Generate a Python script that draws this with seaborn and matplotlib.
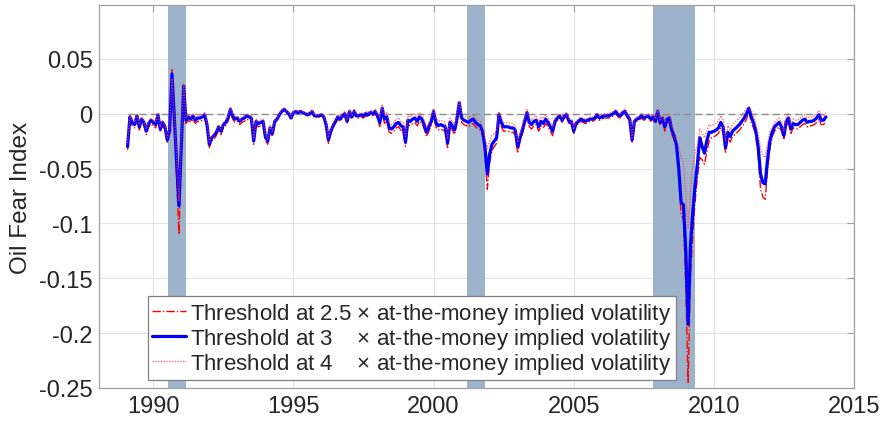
import numpy as np
import pandas as pd
import matplotlib
matplotlib.use("Agg")
import matplotlib.pyplot as plt
import seaborn as sns

# Monthly Oil Fear Index, Feb 1989 - Jan 2014, for three jump thresholds
start_year = 1989
thr3 = [
    -0.030, -0.003, -0.008, -0.010, -0.002, -0.012, -0.005, -0.008, -0.016, -0.009, -0.006, -0.008,
    -0.010, -0.001, -0.014, -0.008, -0.012, -0.024, -0.015, 0.036, -0.003, -0.045, -0.084, -0.030,
    0.025, -0.006, -0.003, -0.005, -0.002, -0.006, -0.004, -0.004, -0.003, -0.001, -0.010, -0.028,
    -0.022, -0.020, -0.017, -0.012, -0.016, -0.010, -0.008, -0.004, 0.004, -0.002, -0.005, -0.004,
    -0.007, -0.005, -0.004, -0.002, -0.003, -0.004, -0.025, -0.007, -0.009, -0.008, -0.007, -0.021,
    -0.025, -0.013, -0.018, -0.007, -0.005, -0.001, 0.002, 0.004, 0.002, 0.000, -0.004, 0.001,
    0.002, 0.001, 0.002, 0.001, 0.000, -0.001, 0.000, 0.002, -0.002, -0.002, -0.002, -0.001,
    -0.003, -0.010, -0.024, -0.016, -0.011, -0.007, -0.003, -0.005, -0.002, 0.000, -0.007, 0.002,
    -0.003, 0.002, -0.002, -0.002, -0.001, -0.002, 0.000, -0.001, 0.001, 0.000, 0.002, -0.002,
    -0.008, 0.005, -0.005, -0.003, -0.013, -0.014, -0.012, -0.009, -0.008, -0.011, -0.012, -0.026,
    -0.006, -0.007, -0.005, -0.004, -0.007, -0.003, -0.005, -0.010, -0.017, -0.012, -0.007, 0.002,
    -0.008, -0.011, -0.010, -0.011, -0.012, -0.027, -0.008, -0.011, -0.015, -0.005, 0.010, -0.004,
    -0.006, -0.007, -0.008, -0.006, -0.005, -0.008, -0.010, -0.011, -0.016, -0.030, -0.055, -0.037,
    -0.028, -0.025, -0.022, -0.001, -0.008, -0.012, -0.012, -0.012, -0.013, -0.013, -0.015, -0.030,
    -0.022, -0.015, -0.007, 0.001, -0.008, -0.010, -0.007, -0.006, -0.012, -0.007, -0.009, -0.005,
    -0.008, -0.012, -0.016, -0.007, -0.004, -0.002, -0.006, -0.002, -0.001, -0.007, -0.007, -0.016,
    -0.009, -0.007, -0.005, -0.006, -0.007, -0.006, -0.005, -0.005, -0.004, -0.001, -0.004, -0.003,
    -0.002, -0.002, -0.002, -0.001, 0.000, 0.002, -0.001, -0.002, 0.001, 0.002, -0.002, -0.005,
    -0.024, -0.007, -0.005, -0.004, -0.002, -0.004, -0.003, -0.002, -0.005, -0.003, -0.007, 0.002,
    -0.008, -0.004, -0.012, -0.005, -0.004, -0.015, -0.020, -0.028, -0.050, -0.081, -0.083, -0.125,
    -0.192, -0.120, -0.090, -0.065, -0.045, -0.022, -0.030, -0.036, -0.025, -0.017, -0.017, -0.016,
    -0.015, -0.013, -0.008, -0.012, -0.031, -0.017, -0.021, -0.016, -0.014, -0.012, -0.010, -0.007,
    -0.004, 0.000, 0.005, -0.003, -0.008, -0.016, -0.030, -0.055, -0.063, -0.064, -0.042, -0.025,
    -0.017, -0.012, -0.010, -0.008, -0.012, -0.020, -0.007, -0.004, -0.014, -0.009, -0.010, -0.010,
    -0.008, -0.006, -0.005, -0.008, -0.007, -0.007, -0.006, -0.004, -0.001, -0.006, -0.006, -0.003,
]
thr25 = [
    -0.033, -0.006, -0.011, -0.013, -0.005, -0.015, -0.008, -0.011, -0.019, -0.012, -0.009, -0.011,
    -0.013, -0.004, -0.017, -0.011, -0.015, -0.027, -0.018, 0.040, -0.005, -0.060, -0.110, -0.040,
    0.024, -0.009, -0.006, -0.008, -0.005, -0.009, -0.007, -0.007, -0.006, -0.004, -0.013, -0.031,
    -0.025, -0.023, -0.020, -0.015, -0.019, -0.013, -0.011, -0.007, 0.001, -0.005, -0.008, -0.007,
    -0.010, -0.008, -0.007, -0.005, -0.006, -0.007, -0.028, -0.010, -0.012, -0.011, -0.010, -0.024,
    -0.028, -0.016, -0.021, -0.010, -0.006, -0.002, 0.001, 0.003, 0.001, -0.001, -0.005, 0.000,
    0.001, 0.000, 0.001, 0.000, -0.001, -0.002, -0.001, 0.001, -0.003, -0.003, -0.003, -0.002,
    -0.004, -0.012, -0.027, -0.018, -0.013, -0.009, -0.005, -0.007, -0.004, -0.002, -0.009, 0.000,
    -0.005, 0.000, -0.004, -0.004, -0.003, -0.004, -0.002, -0.003, -0.001, -0.002, 0.000, -0.004,
    -0.012, 0.002, -0.009, -0.007, -0.017, -0.018, -0.016, -0.013, -0.012, -0.015, -0.016, -0.030,
    -0.010, -0.011, -0.009, -0.008, -0.011, -0.007, -0.009, -0.014, -0.021, -0.016, -0.011, -0.001,
    -0.012, -0.015, -0.014, -0.015, -0.016, -0.031, -0.012, -0.015, -0.019, -0.009, 0.008, -0.008,
    -0.010, -0.011, -0.012, -0.010, -0.009, -0.012, -0.014, -0.015, -0.020, -0.036, -0.069, -0.045,
    -0.034, -0.030, -0.027, -0.004, -0.012, -0.016, -0.016, -0.016, -0.017, -0.017, -0.019, -0.036,
    -0.026, -0.019, -0.011, -0.003, -0.012, -0.014, -0.011, -0.010, -0.016, -0.011, -0.013, -0.009,
    -0.012, -0.016, -0.020, -0.009, -0.006, -0.004, -0.008, -0.004, -0.003, -0.009, -0.009, -0.018,
    -0.011, -0.009, -0.007, -0.008, -0.009, -0.008, -0.007, -0.007, -0.006, -0.003, -0.006, -0.005,
    -0.004, -0.004, -0.004, -0.003, -0.002, 0.000, -0.003, -0.004, -0.001, 0.000, -0.004, -0.007,
    -0.026, -0.009, -0.007, -0.006, -0.004, -0.006, -0.005, -0.004, -0.007, -0.005, -0.009, 0.000,
    -0.010, -0.006, -0.016, -0.009, -0.008, -0.019, -0.024, -0.032, -0.060, -0.092, -0.096, -0.160,
    -0.245, -0.150, -0.110, -0.080, -0.058, -0.040, -0.042, -0.046, -0.035, -0.025, -0.022, -0.021,
    -0.020, -0.018, -0.013, -0.017, -0.036, -0.022, -0.026, -0.021, -0.019, -0.017, -0.015, -0.012,
    -0.009, -0.005, 0.003, -0.008, -0.013, -0.020, -0.038, -0.068, -0.076, -0.078, -0.052, -0.032,
    -0.021, -0.016, -0.014, -0.012, -0.016, -0.024, -0.011, -0.008, -0.018, -0.013, -0.014, -0.014,
    -0.012, -0.010, -0.009, -0.012, -0.011, -0.011, -0.010, -0.008, -0.005, -0.010, -0.010, -0.007,
]
thr4 = [
    -0.027, -0.001, -0.006, -0.008, 0.000, -0.010, -0.003, -0.006, -0.014, -0.007, -0.004, -0.006,
    -0.008, 0.001, -0.012, -0.006, -0.010, -0.022, -0.013, 0.032, 0.000, -0.040, -0.080, -0.025,
    0.027, -0.004, -0.001, -0.003, 0.000, -0.004, -0.002, -0.002, -0.001, 0.001, -0.008, -0.026,
    -0.020, -0.018, -0.015, -0.010, -0.014, -0.008, -0.006, -0.002, 0.006, 0.000, -0.003, -0.002,
    -0.005, -0.003, -0.002, 0.000, -0.001, -0.002, -0.023, -0.005, -0.007, -0.006, -0.005, -0.019,
    -0.023, -0.011, -0.016, -0.005, -0.004, 0.000, 0.003, 0.005, 0.003, 0.001, -0.003, 0.002,
    0.003, 0.002, 0.003, 0.002, 0.001, 0.000, 0.001, 0.003, -0.001, -0.001, -0.001, 0.000,
    -0.002, -0.008, -0.022, -0.014, -0.009, -0.005, -0.001, -0.003, 0.000, 0.002, -0.005, 0.004,
    -0.001, 0.004, 0.000, 0.000, 0.001, 0.000, 0.002, 0.001, 0.003, 0.002, 0.004, 0.000,
    -0.004, 0.008, -0.001, 0.001, -0.009, -0.010, -0.008, -0.005, -0.004, -0.007, -0.008, -0.022,
    -0.002, -0.003, -0.001, 0.000, -0.003, 0.001, -0.001, -0.006, -0.013, -0.008, -0.003, 0.005,
    -0.004, -0.007, -0.006, -0.007, -0.008, -0.023, -0.004, -0.007, -0.011, -0.001, 0.012, 0.000,
    -0.002, -0.003, -0.004, -0.002, -0.001, -0.004, -0.006, -0.007, -0.012, -0.022, -0.032, -0.025,
    -0.020, -0.018, -0.016, 0.002, -0.004, -0.008, -0.008, -0.008, -0.009, -0.009, -0.011, -0.026,
    -0.018, -0.011, -0.003, 0.004, -0.004, -0.006, -0.003, -0.002, -0.008, -0.003, -0.005, -0.001,
    -0.004, -0.008, -0.012, -0.005, -0.002, 0.000, -0.004, 0.000, 0.001, -0.005, -0.005, -0.014,
    -0.007, -0.005, -0.003, -0.004, -0.005, -0.004, -0.003, -0.003, -0.002, 0.001, -0.002, -0.001,
    0.000, 0.000, 0.000, 0.001, 0.002, 0.004, 0.001, 0.000, 0.003, 0.004, 0.000, -0.003,
    -0.022, -0.005, -0.003, -0.002, 0.000, -0.002, -0.001, 0.000, -0.003, -0.001, -0.005, 0.004,
    -0.006, -0.002, -0.008, -0.001, 0.000, -0.011, -0.016, -0.024, -0.030, -0.040, -0.045, -0.075,
    -0.105, -0.070, -0.046, -0.035, -0.028, -0.014, -0.018, -0.022, -0.016, -0.010, -0.011, -0.010,
    -0.009, -0.007, -0.002, -0.006, -0.025, -0.011, -0.015, -0.010, -0.008, -0.006, -0.004, -0.001,
    0.002, 0.005, 0.006, 0.003, -0.002, -0.010, -0.018, -0.032, -0.038, -0.040, -0.028, -0.016,
    -0.013, -0.008, -0.006, -0.004, -0.008, -0.016, -0.003, 0.000, -0.010, -0.005, -0.006, -0.006,
    -0.004, -0.002, -0.001, -0.004, -0.003, -0.003, -0.002, 0.000, 0.003, -0.002, -0.002, 0.001,
]

# NBER recession periods (decimal years)
recessions = [(1990.51, 1991.18), (2001.18, 2001.84), (2007.84, 2009.33)]

labels = [
    "Threshold at 2.5 $\\times$ at-the-money implied volatility",
    "Threshold at 3    $\\times$ at-the-money implied volatility",
    "Threshold at 4    $\\times$ at-the-money implied volatility",
]

n = len(thr3)
t = start_year + (np.arange(n) + 1) / 12.0
df = pd.DataFrame({"t": t, "thr25": thr25, "thr3": thr3, "thr4": thr4})

sns.set_style("white")
plt.rcParams["font.family"] = ["Liberation Sans", "DejaVu Sans"]
plt.rcParams["mathtext.fontset"] = "custom"
plt.rcParams["mathtext.rm"] = "Liberation Sans"
plt.rcParams["axes.unicode_minus"] = False

fig = plt.figure(figsize=(8.85, 4.27), dpi=100)
ax = fig.add_axes([0.1124, 0.089, 0.8525, 0.897])

for a, b in recessions:
    ax.axvspan(a, b, color="#9db3cc", lw=0, zorder=1)

ax.plot([t[0], t[-1]], [0, 0], color="#8c8c8c", lw=1.0, ls=(0, (5, 3)), zorder=2)

sns.lineplot(data=df, x="t", y="thr25", ax=ax, color="#ff0000", lw=1.0,
             linestyle=(0, (6, 1.5, 1, 1.5)), label=labels[0], zorder=3)
sns.lineplot(data=df, x="t", y="thr3", ax=ax, color="#0000ff", lw=2.3,
             label=labels[1], zorder=4)
sns.lineplot(data=df, x="t", y="thr4", ax=ax, color="#ff4040", lw=1.0,
             linestyle=(0, (1, 1)), alpha=0.75, label=labels[2], zorder=5)

ax.set_xlim(1988.08, 2015)
ax.set_ylim(-0.25, 0.099)
ax.set_xticks([1990, 1995, 2000, 2005, 2010, 2015])
ax.set_yticks([-0.25, -0.2, -0.15, -0.1, -0.05, 0, 0.05])
ax.set_yticklabels(["-0.25", "-0.2", "-0.15", "-0.1", "-0.05", "0", "0.05"])
ax.set_xlabel("")
ax.set_ylabel("Oil Fear Index", fontsize=17.5, color="#262626", labelpad=5)

ax.grid(True, color="#e3e3e3", lw=0.8, zorder=0)
ax.set_axisbelow(True)
for s in ax.spines.values():
    s.set_color("#a0a0a0")
    s.set_linewidth(0.9)
ax.tick_params(axis="both", direction="in", length=5, width=0.8, color="#a0a0a0",
               labelsize=17, labelcolor="#262626", top=True, right=True, pad=5)

leg = ax.legend(loc="lower left", bbox_to_anchor=(0.064, 0.021), borderaxespad=0,
                fontsize=16, frameon=True, fancybox=False, framealpha=1,
                edgecolor="#808080", handlelength=1.5, handletextpad=0.2,
                labelspacing=0.0, borderpad=0.2)
leg.get_frame().set_linewidth(0.9)

fig.savefig("out.png", dpi=100)
